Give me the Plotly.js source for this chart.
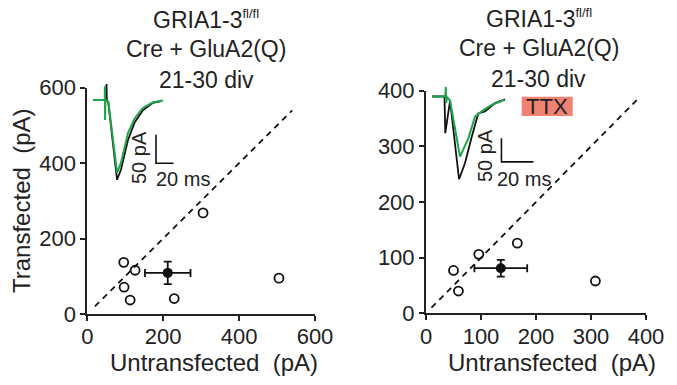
<!DOCTYPE html>
<html>
<head>
<meta charset="utf-8">
<script src="https://cdn.plot.ly/plotly-3.0.1.min.js"></script>
<style>html,body{margin:0;padding:0;background:#fff;}#chart{width:677px;height:385px;}</style>
</head>
<body>
<div id="chart"></div>
<script>
// ---- Data ----
const leftUntransfected = [305, 96, 126, 97, 113, 229, 505];
const leftTransfected   = [268, 137, 116, 71, 37, 41, 95];
const leftMeanX = [212];
const leftMeanY = [109];
const leftSemX  = [60];
const leftSemY  = [30];
const leftUnity = [20, 540];

const rightUntransfected = [50, 59, 96, 166, 308];
const rightTransfected   = [77, 40, 106, 126, 58];
const rightMeanX = [136];
const rightMeanY = [81];
const rightSemX  = [48];
const rightSemY  = [15];
const rightUnity = [10, 385];

const leftTickVals  = [0, 200, 400, 600];
const rightTickVals = [0, 100, 200, 300, 400];

// Inset current traces (time in ms, current in pA)
const leftGreenT = [0, 13.4, 13.6, 13.8, 14.1, 17.5, 22.5, 27.5, 32, 40, 47.7, 57, 68.6, 80];
const leftGreenI = [0, 0, 24, -35, 0, -3, -64, -128, -110, -58, -32, -14, -4, -1];
const leftBlackT = [0, 15.2, 15.4, 15.8, 17.5, 22.5, 27.5, 32, 40, 47.7, 57, 68.6, 78];
const leftBlackI = [0, 0, 28, 0, -5, -72, -140, -122, -70, -39, -18, -5, -2];

const rightGreenT = [0, 8.3, 8.6, 8.9, 9.3, 11.3, 17.5, 22.7, 26.9, 32.1, 37.3, 45.2];
const rightGreenI = [0, 0, 20, -14, -1, -9, -128, -89, -43, -29, -18, -7];
const rightBlackT = [0, 7.8, 8.3, 9.4, 11.3, 16.9, 20.6, 24.8, 28.9, 33.1, 39.4, 45.6];
const rightBlackI = [0, 0, -78, -50, -9, -176, -142, -86, -36, -32, -14, -6];

// Scale bars: 50 pA vertical, 20 ms horizontal
const leftBarT  = [72, 72, 92];
const leftBarI  = [-61, -111, -111];
const rightBarT = [43.4, 43.4, 63.4];
const rightBarI = [-89, -139, -139];

// ---- Styling helpers ----
const W = 677, H = 385;
const px = v => v / W;
const py = v => 1 - v / H;
const FONT = 'Liberation Sans, Arial, Helvetica, sans-serif';
const INK = '#222';
const GREEN = '#1fa34a';

const traces = [
  // Left panel
  {x: leftUnity, y: leftUnity, xaxis: 'x', yaxis: 'y', mode: 'lines',
   line: {color: '#111', width: 1.8, dash: '6px,5px'}, hoverinfo: 'skip'},
  {x: leftUntransfected, y: leftTransfected, xaxis: 'x', yaxis: 'y', mode: 'markers',
   marker: {symbol: 'circle-open', size: 9, color: '#111', line: {width: 1.8, color: '#111'}}, cliponaxis: false},
  {x: leftMeanX, y: leftMeanY, xaxis: 'x', yaxis: 'y', mode: 'markers',
   marker: {symbol: 'circle', size: 10, color: '#111'},
   error_x: {type: 'data', array: leftSemX, color: '#111', thickness: 1.8, width: 4},
   error_y: {type: 'data', array: leftSemY, color: '#111', thickness: 1.8, width: 4}},
  // Right panel
  {x: rightUnity, y: rightUnity, xaxis: 'x2', yaxis: 'y2', mode: 'lines',
   line: {color: '#111', width: 1.8, dash: '6px,5px'}, hoverinfo: 'skip'},
  {x: rightUntransfected, y: rightTransfected, xaxis: 'x2', yaxis: 'y2', mode: 'markers',
   marker: {symbol: 'circle-open', size: 9, color: '#111', line: {width: 1.8, color: '#111'}}, cliponaxis: false},
  {x: rightMeanX, y: rightMeanY, xaxis: 'x2', yaxis: 'y2', mode: 'markers',
   marker: {symbol: 'circle', size: 10, color: '#111'},
   error_x: {type: 'data', array: rightSemX, color: '#111', thickness: 1.8, width: 4},
   error_y: {type: 'data', array: rightSemY, color: '#111', thickness: 1.8, width: 4}},
  // Left inset
  {x: leftBlackT, y: leftBlackI, xaxis: 'x3', yaxis: 'y3', mode: 'lines',
   line: {color: '#111', width: 1.8}, cliponaxis: false},
  {x: leftGreenT, y: leftGreenI, xaxis: 'x3', yaxis: 'y3', mode: 'lines',
   line: {color: GREEN, width: 2}, cliponaxis: false},
  {x: leftBarT, y: leftBarI, xaxis: 'x3', yaxis: 'y3', mode: 'lines',
   line: {color: '#111', width: 1.6}, cliponaxis: false},
  // Right inset
  {x: rightBlackT, y: rightBlackI, xaxis: 'x4', yaxis: 'y4', mode: 'lines',
   line: {color: '#111', width: 1.8}, cliponaxis: false},
  {x: rightGreenT, y: rightGreenI, xaxis: 'x4', yaxis: 'y4', mode: 'lines',
   line: {color: GREEN, width: 2}, cliponaxis: false},
  {x: rightBarT, y: rightBarI, xaxis: 'x4', yaxis: 'y4', mode: 'lines',
   line: {color: '#111', width: 1.6}, cliponaxis: false}
];

const mainAxis = (domain, range, tickvals, anchor, standoff) => ({
  domain: domain, range: range, tickvals: tickvals, anchor: anchor,
  showline: true, linecolor: INK, linewidth: 2,
  ticks: 'outside', ticklen: 5, tickwidth: 2, tickcolor: INK,
  ticklabelstandoff: standoff || 0,
  showgrid: false, zeroline: false, fixedrange: true,
  tickfont: {family: FONT, size: 22, color: INK}
});

function ann(text, x, y, size, extra) {
  return Object.assign({
    text: text, x: px(x), y: py(y), xref: 'paper', yref: 'paper',
    xanchor: 'center', yanchor: 'middle', showarrow: false,
    font: {family: FONT, size: size, color: INK}
  }, extra || {});
}

const SUP = 'GRIA1-3<sup><span style="font-size:13px">fl/fl</span></sup>';

const layout = {
  width: W, height: H,
  margin: {l: 0, r: 0, t: 0, b: 0},
  paper_bgcolor: '#fff', plot_bgcolor: 'rgba(0,0,0,0)',
  showlegend: false,
  xaxis:  mainAxis([px(87.3), px(315)], [0, 600], leftTickVals, 'y', -3),
  yaxis:  mainAxis([py(314), py(87.7)], [0, 600], leftTickVals, 'x'),
  xaxis2: mainAxis([px(426), px(646)], [0, 400], rightTickVals, 'y2', -3),
  yaxis2: mainAxis([py(313.3), py(90.7)], [0, 400], rightTickVals, 'x2'),
  xaxis3: {domain: [px(90), px(180)], range: [-3.43, 99.4], visible: false, anchor: 'y3', fixedrange: true},
  yaxis3: {domain: [py(190), py(78)], range: [-157.9, 38.6], visible: false, anchor: 'x3', fixedrange: true},
  xaxis4: {domain: [px(428), px(540)], range: [-2.5, 67.5], visible: false, anchor: 'y4', fixedrange: true},
  yaxis4: {domain: [py(190), py(80)], range: [-198.9, 35.1], visible: false, anchor: 'x4', fixedrange: true},
  shapes: [
    {type: 'rect', xref: 'paper', yref: 'paper',
     x0: px(521.7), x1: px(572.7), y0: py(116), y1: py(96.7),
     fillcolor: '#f08272', line: {width: 0}, layer: 'below'}
  ],
  annotations: [
    ann(SUP, 206, 19, 23),
    ann('Cre + GluA2(Q)', 206, 49.5, 23),
    ann('21-30 div', 206, 79.5, 23),
    ann(SUP, 538.5, 18, 23),
    ann('Cre + GluA2(Q)', 538.5, 48.5, 23),
    ann('21-30 div', 538.5, 79, 23),
    ann('Untransfected\u00a0\u00a0(pA)', 214, 362, 24),
    ann('Untransfected\u00a0\u00a0(pA)', 552, 362, 24),
    ann('Transfected\u00a0\u00a0(pA)', 22, 201, 24, {textangle: -90}),
    ann('TTX', 547, 106.5, 22),
    ann('50 pA', 139, 158, 20, {textangle: -90}),
    ann('20 ms', 183, 178.5, 20),
    ann('50 pA', 485, 156, 20, {textangle: -90}),
    ann('20 ms', 524, 178.5, 20)
  ]
};

Plotly.newPlot('chart', traces, layout, {staticPlot: true, displayModeBar: false});
</script>
</body>
</html>
